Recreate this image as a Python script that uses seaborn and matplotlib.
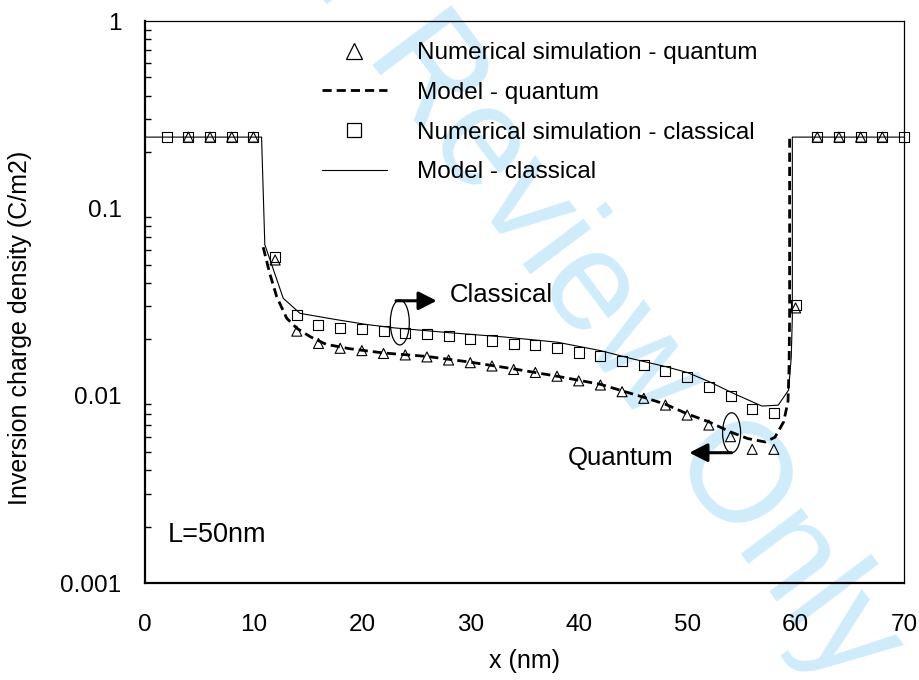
import matplotlib
matplotlib.use("Agg")
import matplotlib.pyplot as plt
import seaborn as sns
import pandas as pd
from matplotlib.lines import Line2D
from matplotlib.patches import Ellipse
from matplotlib.ticker import FixedLocator, FixedFormatter, LogLocator, NullFormatter

# Numerical simulation - classical (squares)
x_sim_classical = [2, 4, 6, 8, 10, 12, 14, 16, 18, 20, 22, 24, 26, 28, 30, 32, 34,
                   36, 38, 40, 42, 44, 46, 48, 50, 52, 54, 56, 58, 60, 62, 64, 66, 68, 70]
q_sim_classical = [0.24, 0.24, 0.24, 0.24, 0.24, 0.055, 0.027, 0.0238, 0.0231, 0.0226,
                   0.0221, 0.0217, 0.0213, 0.0208, 0.0201, 0.0197, 0.0189, 0.0186, 0.0179,
                   0.0170, 0.0163, 0.0154, 0.0146, 0.0136, 0.01253, 0.01116, 0.00996,
                   0.00849, 0.00805, 0.0305, 0.24, 0.24, 0.24, 0.24, 0.24]

# Numerical simulation - quantum (triangles)
x_sim_quantum = [4, 6, 8, 10, 12, 14, 16, 18, 20, 22, 24, 26, 28, 30, 32, 34, 36,
                 38, 40, 42, 44, 46, 48, 50, 52, 54, 56, 58, 60, 62, 64, 66, 68]
q_sim_quantum = [0.24, 0.24, 0.24, 0.24, 0.053, 0.0221, 0.0190, 0.0179, 0.0174, 0.0168,
                 0.0165, 0.0161, 0.0155, 0.0150, 0.0144, 0.0138, 0.0133, 0.0127, 0.0120,
                 0.0114, 0.0105, 0.00968, 0.00891, 0.00788, 0.00697, 0.00604, 0.00517,
                 0.00517, 0.0294, 0.24, 0.24, 0.24, 0.24]

# Model - classical (solid curve)
x_model_classical = [0, 10.75, 11.05, 12.75, 14.3, 17.4, 20.4, 23, 28, 33, 38, 42, 45,
                     48, 50, 52, 54.4, 56.9, 58.4, 59.35, 59.6, 59.7, 59.7, 70]
q_model_classical = [0.24, 0.24, 0.064, 0.0331, 0.0275, 0.0256, 0.0240, 0.0230, 0.0217,
                     0.0206, 0.0193, 0.0174, 0.0157, 0.0143, 0.0133, 0.0119, 0.0102,
                     0.0088, 0.0089, 0.0107, 0.0160, 0.026, 0.24, 0.24]

# Model - quantum (dashed curve)
x_model_quantum = [10.9, 11.5, 12.15, 13.07, 14.0, 15.2, 16.7, 18.9, 22, 26, 30, 34, 38,
                   42, 46, 48, 50, 52, 54, 55.6, 57.2, 58.1, 58.9, 59.3, 59.4, 59.45, 59.45]
q_model_quantum = [0.062, 0.045, 0.0337, 0.0259, 0.0229, 0.0207, 0.0188, 0.0178, 0.0169,
                   0.0162, 0.0151, 0.0139, 0.0127, 0.0115, 0.0098, 0.0090, 0.0080,
                   0.00725, 0.0064, 0.0059, 0.00566, 0.0060, 0.00725, 0.0093, 0.0141,
                   0.0262, 0.235]

legend_labels = ["Numerical simulation - quantum", "Model - quantum",
                 "Numerical simulation - classical", "Model - classical"]
y_ticks = [0.001, 0.01, 0.1, 1]
y_tick_labels = ["0.001", "0.01", "0.1", "1"]
x_ticks = [0, 10, 20, 30, 40, 50, 60, 70]

sns.set_theme(style="white")
plt.rcParams["font.family"] = ["Liberation Sans", "DejaVu Sans"]
plt.rcParams["text.color"] = "black"
plt.rcParams["axes.labelcolor"] = "black"
plt.rcParams["xtick.color"] = "black"
plt.rcParams["ytick.color"] = "black"

fig = plt.figure(figsize=(9.19, 6.8), dpi=100)
fig.patch.set_facecolor("white")
ax = fig.add_axes([145 / 919, 1 - 583 / 680, 759 / 919, 562 / 680])
ax.set_facecolor("none")

# Watermark behind the axes
fig.text(558 / 919, 1 - 250 / 680, "For Review Only", rotation=-53,
         rotation_mode="anchor", ha="center", va="center", fontsize=102,
         color="#d0ecfb", zorder=-10)

df_sq = pd.DataFrame({"x": x_sim_classical, "q": q_sim_classical})
df_tr = pd.DataFrame({"x": x_sim_quantum, "q": q_sim_quantum})
df_mc = pd.DataFrame({"x": x_model_classical, "q": q_model_classical})
df_mq = pd.DataFrame({"x": x_model_quantum, "q": q_model_quantum})

sns.scatterplot(data=df_tr, x="x", y="q", ax=ax, marker="^", s=52,
                facecolor="none", edgecolor="black", linewidth=0.8, zorder=3)
sns.lineplot(data=df_mq, x="x", y="q", ax=ax, sort=False, estimator=None,
             color="black", linewidth=2.0, dashes=False, zorder=4)
ax.lines[-1].set_dashes((3.3, 1.8))
sns.scatterplot(data=df_sq, x="x", y="q", ax=ax, marker="s", s=52,
                facecolor="none", edgecolor="black", linewidth=0.8, zorder=5)
sns.lineplot(data=df_mc, x="x", y="q", ax=ax, sort=False, estimator=None,
             color="black", linewidth=0.8, zorder=6)
for coll in ax.collections:
    coll.set_clip_on(False)

ax.set_yscale("log")
ax.set_xlim(0, 70)
ax.set_ylim(0.001, 1)
ax.xaxis.set_major_locator(FixedLocator(x_ticks))
ax.yaxis.set_major_locator(FixedLocator(y_ticks))
ax.yaxis.set_major_formatter(FixedFormatter(y_tick_labels))
ax.yaxis.set_minor_locator(LogLocator(base=10, subs=range(2, 10)))
ax.yaxis.set_minor_formatter(NullFormatter())
ax.xaxis.set_minor_locator(FixedLocator([]))

ax.tick_params(axis="both", which="both", direction="in", top=False, right=False,
               colors="black", labelsize=17.5)
ax.tick_params(axis="x", which="major", length=6, width=1, pad=22)
ax.tick_params(axis="y", which="major", length=6, width=1, pad=17)
ax.tick_params(axis="y", which="minor", length=4, width=1, left=True)

for side in ["left", "bottom"]:
    ax.spines[side].set_linewidth(1.6)
for side in ["top", "right"]:
    ax.spines[side].set_linewidth(0.9)
for sp in ax.spines.values():
    sp.set_color("black")
    sp.set_visible(True)

ax.set_xlabel("x (nm)", fontsize=18, labelpad=9.5)
ax.set_ylabel("Inversion charge density (C/m2)", fontsize=18)
ax.yaxis.set_label_coords(-0.1493, 0.4537)

# Legend
handles = [
    Line2D([], [], linestyle="none", marker="^", markersize=12,
           markerfacecolor="none", markeredgecolor="black", markeredgewidth=0.9),
    Line2D([], [], color="black", linewidth=2.0, dashes=(3.3, 1.8)),
    Line2D([], [], linestyle="none", marker="s", markersize=9.4,
           markerfacecolor="none", markeredgecolor="black", markeredgewidth=0.9),
    Line2D([], [], color="black", linewidth=0.8),
]
ax.legend(handles, legend_labels, loc="upper left",
          bbox_to_anchor=((322 - 145) / 759, (583 - 42) / 562),
          frameon=False, fontsize=17.5, handlelength=2.67, handletextpad=1.22,
          labelspacing=0.73, borderpad=0, borderaxespad=0)

# Annotations
def to_axes(x, y):
    return ax.transAxes.inverted().transform(ax.transData.transform((x, y)))

for (ex, ey, w, h) in [(23.5, 0.0246, 19, 45), (54.1, 0.00634, 18, 40)]:
    cx, cy = to_axes(ex, ey)
    ax.add_patch(Ellipse((cx, cy), w / 759, h / 562, transform=ax.transAxes,
                         fill=False, edgecolor="black", linewidth=0.9, zorder=7))

arrow_kw = dict(arrowstyle="-|>,head_length=0.55,head_width=0.28", color="black",
                lw=2.2, mutation_scale=20, shrinkA=0, shrinkB=0)
ax.annotate("", xy=(26.9, 0.0321), xytext=(23.15, 0.0321), arrowprops=arrow_kw, zorder=7)
ax.annotate("", xy=(50.2, 0.00496), xytext=(54.1, 0.00496), arrowprops=arrow_kw, zorder=7)
ax.text(28.07, 0.0345, "Classical", fontsize=18.5, ha="left", va="center")
ax.text(48.7, 0.00463, "Quantum", fontsize=18.5, ha="right", va="center")
ax.text(2.1, 0.0018, "L=50nm", fontsize=19.5, ha="left", va="center")

fig.savefig("out.png", dpi=100, facecolor="white")
